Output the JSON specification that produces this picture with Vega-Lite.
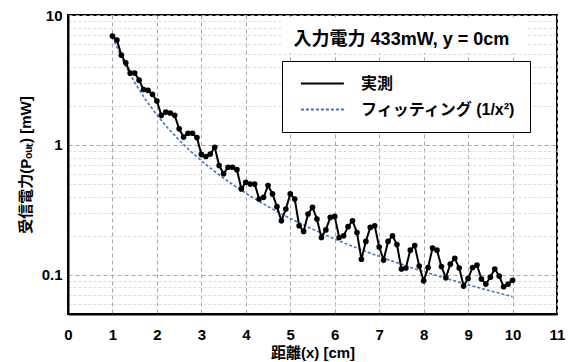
{
  "$schema": "https://vega.github.io/schema/vega-lite/v6.json",
  "width": 489,
  "height": 299,
  "autosize": "none",
  "padding": {"left": 68, "top": 15, "right": 13, "bottom": 48},
  "background": "white",
  "config": {
    "font": "Liberation Sans, Noto Sans CJK JP",
    "view": {"stroke": "black", "strokeWidth": 2},
    "axis": {
      "labelFont": "Liberation Sans, Noto Sans CJK JP",
      "titleFont": "Liberation Sans, Noto Sans CJK JP",
      "labelFontSize": 15,
      "labelFontWeight": "bold",
      "labelColor": "black",
      "titleFontSize": 15,
      "titleFontWeight": "bold",
      "titleColor": "black",
      "domainColor": "black",
      "domainWidth": 2,
      "ticks": false,
      "gridColor": "#A6A6A6",
      "gridDash": [4, 3],
      "gridWidth": 1
    },
    "legend": {
      "labelFont": "Liberation Sans, Noto Sans CJK JP",
      "labelFontSize": 16,
      "labelFontWeight": "bold",
      "labelColor": "black"
    }
  },
  "datasets": {
    "meas": [
      {"x": 1.0, "p": 6.88, "s": "実測"}, {"x": 1.1, "p": 6.41, "s": "実測"}, {"x": 1.2, "p": 4.91, "s": "実測"},
      {"x": 1.3, "p": 4.29, "s": "実測"}, {"x": 1.4, "p": 3.57, "s": "実測"}, {"x": 1.5, "p": 3.58, "s": "実測"},
      {"x": 1.6, "p": 3.15, "s": "実測"}, {"x": 1.7, "p": 2.67, "s": "実測"}, {"x": 1.8, "p": 2.63, "s": "実測"},
      {"x": 1.9, "p": 2.45, "s": "実測"}, {"x": 2.0, "p": 2.18, "s": "実測"}, {"x": 2.1, "p": 1.69, "s": "実測"},
      {"x": 2.2, "p": 1.79, "s": "実測"}, {"x": 2.3, "p": 1.76, "s": "実測"}, {"x": 2.4, "p": 1.69, "s": "実測"},
      {"x": 2.5, "p": 1.33, "s": "実測"}, {"x": 2.6, "p": 1.15, "s": "実測"}, {"x": 2.7, "p": 1.23, "s": "実測"},
      {"x": 2.8, "p": 1.23, "s": "実測"}, {"x": 2.9, "p": 1.14, "s": "実測"}, {"x": 3.0, "p": 0.845, "s": "実測"},
      {"x": 3.1, "p": 0.815, "s": "実測"}, {"x": 3.2, "p": 0.85, "s": "実測"}, {"x": 3.3, "p": 0.96, "s": "実測"},
      {"x": 3.4, "p": 0.695, "s": "実測"}, {"x": 3.5, "p": 0.6, "s": "実測"}, {"x": 3.6, "p": 0.674, "s": "実測"},
      {"x": 3.7, "p": 0.674, "s": "実測"}, {"x": 3.8, "p": 0.645, "s": "実測"}, {"x": 3.9, "p": 0.459, "s": "実測"},
      {"x": 4.0, "p": 0.516, "s": "実測"}, {"x": 4.1, "p": 0.5, "s": "実測"}, {"x": 4.2, "p": 0.5, "s": "実測"},
      {"x": 4.3, "p": 0.384, "s": "実測"}, {"x": 4.4, "p": 0.395, "s": "実測"}, {"x": 4.5, "p": 0.487, "s": "実測"},
      {"x": 4.6, "p": 0.42, "s": "実測"}, {"x": 4.7, "p": 0.335, "s": "実測"}, {"x": 4.8, "p": 0.261, "s": "実測"},
      {"x": 4.9, "p": 0.321, "s": "実測"}, {"x": 5.0, "p": 0.42, "s": "実測"}, {"x": 5.1, "p": 0.384, "s": "実測"},
      {"x": 5.2, "p": 0.239, "s": "実測"}, {"x": 5.3, "p": 0.216, "s": "実測"}, {"x": 5.4, "p": 0.294, "s": "実測"},
      {"x": 5.5, "p": 0.331, "s": "実測"}, {"x": 5.6, "p": 0.269, "s": "実測"}, {"x": 5.7, "p": 0.194, "s": "実測"},
      {"x": 5.8, "p": 0.222, "s": "実測"}, {"x": 5.9, "p": 0.277, "s": "実測"}, {"x": 6.0, "p": 0.282, "s": "実測"},
      {"x": 6.1, "p": 0.194, "s": "実測"}, {"x": 6.2, "p": 0.2, "s": "実測"}, {"x": 6.3, "p": 0.235, "s": "実測"},
      {"x": 6.4, "p": 0.261, "s": "実測"}, {"x": 6.5, "p": 0.212, "s": "実測"}, {"x": 6.6, "p": 0.132, "s": "実測"},
      {"x": 6.7, "p": 0.181, "s": "実測"}, {"x": 6.8, "p": 0.232, "s": "実測"}, {"x": 6.9, "p": 0.239, "s": "実測"},
      {"x": 7.0, "p": 0.164, "s": "実測"}, {"x": 7.1, "p": 0.13, "s": "実測"}, {"x": 7.2, "p": 0.181, "s": "実測"},
      {"x": 7.3, "p": 0.2, "s": "実測"}, {"x": 7.4, "p": 0.171, "s": "実測"}, {"x": 7.5, "p": 0.111, "s": "実測"},
      {"x": 7.6, "p": 0.113, "s": "実測"}, {"x": 7.7, "p": 0.155, "s": "実測"}, {"x": 7.8, "p": 0.168, "s": "実測"},
      {"x": 7.9, "p": 0.117, "s": "実測"}, {"x": 8.0, "p": 0.09, "s": "実測"}, {"x": 8.1, "p": 0.114, "s": "実測"},
      {"x": 8.2, "p": 0.161, "s": "実測"}, {"x": 8.3, "p": 0.155, "s": "実測"}, {"x": 8.4, "p": 0.116, "s": "実測"},
      {"x": 8.5, "p": 0.095, "s": "実測"}, {"x": 8.6, "p": 0.121, "s": "実測"}, {"x": 8.7, "p": 0.134, "s": "実測"},
      {"x": 8.8, "p": 0.113, "s": "実測"}, {"x": 8.9, "p": 0.082, "s": "実測"}, {"x": 9.0, "p": 0.094, "s": "実測"},
      {"x": 9.1, "p": 0.114, "s": "実測"}, {"x": 9.2, "p": 0.119, "s": "実測"}, {"x": 9.3, "p": 0.093, "s": "実測"},
      {"x": 9.4, "p": 0.085, "s": "実測"}, {"x": 9.5, "p": 0.096, "s": "実測"}, {"x": 9.6, "p": 0.111, "s": "実測"},
      {"x": 9.7, "p": 0.098, "s": "実測"}, {"x": 9.8, "p": 0.081, "s": "実測"}, {"x": 9.9, "p": 0.085, "s": "実測"},
      {"x": 10.0, "p": 0.091, "s": "実測"}
    ],
    "fit": [
      {"x": 1.0, "p": 6.8, "s": "フィッティング (1/x²)"}, {"x": 1.25, "p": 4.352, "s": "フィッティング (1/x²)"},
      {"x": 1.5, "p": 3.022, "s": "フィッティング (1/x²)"}, {"x": 1.75, "p": 2.22, "s": "フィッティング (1/x²)"},
      {"x": 2.0, "p": 1.7, "s": "フィッティング (1/x²)"}, {"x": 2.25, "p": 1.343, "s": "フィッティング (1/x²)"},
      {"x": 2.5, "p": 1.088, "s": "フィッティング (1/x²)"}, {"x": 2.75, "p": 0.899, "s": "フィッティング (1/x²)"},
      {"x": 3.0, "p": 0.756, "s": "フィッティング (1/x²)"}, {"x": 3.25, "p": 0.644, "s": "フィッティング (1/x²)"},
      {"x": 3.5, "p": 0.555, "s": "フィッティング (1/x²)"}, {"x": 3.75, "p": 0.484, "s": "フィッティング (1/x²)"},
      {"x": 4.0, "p": 0.425, "s": "フィッティング (1/x²)"}, {"x": 4.25, "p": 0.376, "s": "フィッティング (1/x²)"},
      {"x": 4.5, "p": 0.336, "s": "フィッティング (1/x²)"}, {"x": 4.75, "p": 0.301, "s": "フィッティング (1/x²)"},
      {"x": 5.0, "p": 0.272, "s": "フィッティング (1/x²)"}, {"x": 5.25, "p": 0.247, "s": "フィッティング (1/x²)"},
      {"x": 5.5, "p": 0.225, "s": "フィッティング (1/x²)"}, {"x": 5.75, "p": 0.206, "s": "フィッティング (1/x²)"},
      {"x": 6.0, "p": 0.189, "s": "フィッティング (1/x²)"}, {"x": 6.25, "p": 0.174, "s": "フィッティング (1/x²)"},
      {"x": 6.5, "p": 0.161, "s": "フィッティング (1/x²)"}, {"x": 6.75, "p": 0.149, "s": "フィッティング (1/x²)"},
      {"x": 7.0, "p": 0.139, "s": "フィッティング (1/x²)"}, {"x": 7.25, "p": 0.129, "s": "フィッティング (1/x²)"},
      {"x": 7.5, "p": 0.121, "s": "フィッティング (1/x²)"}, {"x": 7.75, "p": 0.113, "s": "フィッティング (1/x²)"},
      {"x": 8.0, "p": 0.106, "s": "フィッティング (1/x²)"}, {"x": 8.25, "p": 0.0999, "s": "フィッティング (1/x²)"},
      {"x": 8.5, "p": 0.0941, "s": "フィッティング (1/x²)"}, {"x": 8.75, "p": 0.0888, "s": "フィッティング (1/x²)"},
      {"x": 9.0, "p": 0.084, "s": "フィッティング (1/x²)"}, {"x": 9.25, "p": 0.0795, "s": "フィッティング (1/x²)"},
      {"x": 9.5, "p": 0.0753, "s": "フィッティング (1/x²)"}, {"x": 9.75, "p": 0.0715, "s": "フィッティング (1/x²)"},
      {"x": 10.0, "p": 0.068, "s": "フィッティング (1/x²)"}
    ],
    "note": [
      {"label": "入力電力 433mW, y = 0cm"}
    ]
  },
  "layer": [
    {
      "data": {"name": "fit"},
      "mark": {"type": "line", "strokeWidth": 1.6},
      "encoding": {
        "x": {
          "field": "x",
          "type": "quantitative",
          "scale": {"domain": [0, 11], "nice": false, "zero": false},
          "axis": {
            "values": [0, 1, 2, 3, 4, 5, 6, 7, 8, 9, 10, 11],
            "title": "距離(x) [cm]",
            "labelPadding": 13,
            "titlePadding": 3,
            "labelFlush": false
          }
        },
        "y": {
          "field": "p",
          "type": "quantitative",
          "scale": {"type": "log", "domain": [0.05, 10], "nice": false},
          "axis": {
            "values": [0.06, 0.07, 0.08, 0.09, 0.1, 0.2, 0.3, 0.4, 0.5, 0.6, 0.7, 0.8, 0.9, 1, 2, 3, 4, 5, 6, 7, 8, 9, 10],
            "labelExpr": "(datum.value == 0.1 || datum.value == 1 || datum.value == 10) ? datum.label : ''",
            "format": "~g",
            "labelPadding": 6,
            "title": "受信電力(Pₒᵤₜ) [mW]",
            "titlePadding": 8,
            "gridColor": {
              "condition": {"test": "datum.value == 0.1 || datum.value == 1 || datum.value == 10", "value": "#A6A6A6"},
              "value": "#DCDCDC"
            },
            "gridDash": {
              "condition": {"test": "datum.value == 0.1 || datum.value == 1 || datum.value == 10", "value": [4, 3]},
              "value": [3, 2]
            }
          }
        },
        "color": {
          "field": "s",
          "type": "nominal",
          "scale": {"domain": ["実測", "フィッティング (1/x²)"], "range": ["#000000", "#4472C4"]},
          "legend": {
            "title": null,
            "orient": "none",
            "legendX": 214,
            "legendY": 46,
            "symbolType": "M-0.5,0H5.5",
            "symbolSize": 205,
            "symbolStrokeWidth": 2,
            "labelOffset": 48,
            "padding": 14,
            "rowPadding": 9,
            "strokeColor": "black",
            "fillColor": "white"
          }
        },
        "strokeDash": {
          "field": "s",
          "type": "nominal",
          "scale": {"domain": ["実測", "フィッティング (1/x²)"], "range": [[1, 0], [3, 2]]},
          "legend": null
        }
      }
    },
    {
      "data": {"name": "meas"},
      "mark": {"type": "line", "strokeWidth": 2, "point": {"filled": true, "size": 32}},
      "encoding": {
        "x": {"field": "x", "type": "quantitative", "title": "距離(x) [cm]"},
        "y": {"field": "p", "type": "quantitative", "title": "受信電力(Pₒᵤₜ) [mW]"},
        "color": {"field": "s", "type": "nominal"},
        "strokeDash": {"field": "s", "type": "nominal"}
      }
    },
    {
      "data": {"name": "note"},
      "mark": {"type": "rect", "fill": "white"},
      "encoding": {
        "x": {"datum": 4.8, "type": "quantitative"},
        "x2": {"datum": 10.35},
        "y": {"datum": 9.6, "type": "quantitative"},
        "y2": {"datum": 5.1}
      }
    },
    {
      "data": {"name": "note"},
      "mark": {"type": "text", "fontSize": 18, "fontWeight": "bold", "fill": "black", "align": "center", "baseline": "middle"},
      "encoding": {
        "x": {"datum": 7.5, "type": "quantitative"},
        "y": {"datum": 6.4, "type": "quantitative"},
        "text": {"field": "label", "type": "nominal"}
      }
    }
  ]
}
